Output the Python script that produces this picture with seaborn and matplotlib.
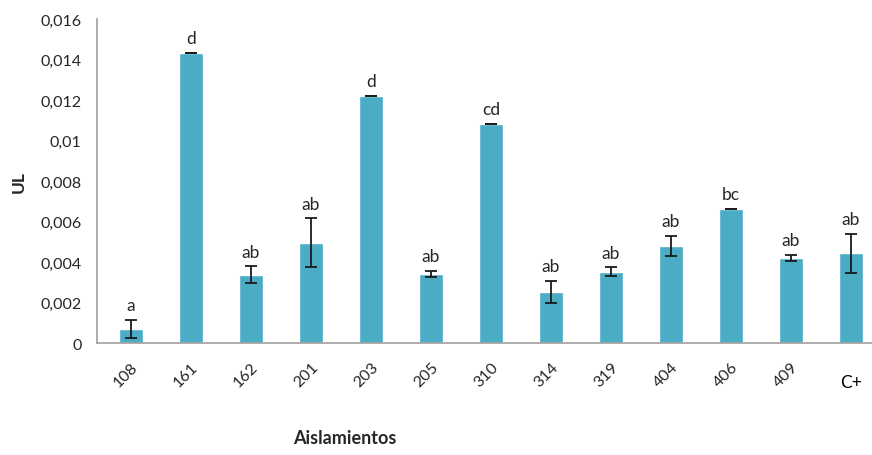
import numpy as np
import pandas as pd
import matplotlib
matplotlib.use("Agg")
import matplotlib.pyplot as plt
import seaborn as sns

# ================== DATA ==================
aislamientos = ["108", "161", "162", "201", "203", "205", "310",
                "314", "319", "404", "406", "409", "C+"]
ul_mean = [0.00069, 0.01432, 0.00336, 0.00494, 0.01220, 0.00341, 0.01081,
           0.00252, 0.00351, 0.00479, 0.00662, 0.00420, 0.00444]
ul_err = [0.00044, 0.00001, 0.00042, 0.00121, 0.00001, 0.00015, 0.00001,
          0.00054, 0.00022, 0.00050, 0.00001, 0.00015, 0.00096]
letras = ["a", "d", "ab", "ab", "d", "ab", "cd",
          "ab", "ab", "ab", "bc", "ab", "ab"]
y_ticks = [0, 0.002, 0.004, 0.006, 0.008, 0.01, 0.012, 0.014, 0.016]
y_tick_labels = ["0", "0,002", "0,004", "0,006", "0,008",
                 "0,01", "0,012", "0,014", "0,016"]

BAR_COLOR = "#4BACC6"
TEXT_COLOR = "#262626"

# ================== PLOT ==================
sns.set_style("white")
plt.rcParams['font.family'] = ['Lato', 'DejaVu Sans']

df = pd.DataFrame({"Aislamientos": aislamientos, "UL": ul_mean})

fig = plt.figure(figsize=(8.72, 4.56), dpi=100)
ax = fig.add_axes([0.111, 0.2456, 0.889, 0.7105])

sns.barplot(data=df, x="Aislamientos", y="UL", color=BAR_COLOR,
            saturation=1, width=0.4, errorbar=None, ax=ax)

x_pos = np.arange(len(aislamientos))
ax.errorbar(x_pos, ul_mean, yerr=ul_err, fmt="none", ecolor="#1a1a1a",
            elinewidth=1.3, capsize=4, capthick=1.3)

for x, m, e, lab in zip(x_pos, ul_mean, ul_err, letras):
    ax.annotate(lab, (x, m + e), xytext=(0, 5), textcoords="offset points",
                ha="center", va="bottom", fontsize=12.5, color=TEXT_COLOR)

ax.set_ylim(0, 0.016)
ax.set_xlim(-0.567, 12.35)
ax.set_yticks(y_ticks)
ax.set_yticklabels(y_tick_labels, fontsize=11.5, color=TEXT_COLOR)

ax.set_xticks(x_pos)
ax.set_xticklabels(aislamientos, fontsize=11.5, color=TEXT_COLOR)
for t in ax.get_xticklabels()[:-1]:
    t.set_rotation(45)
    t.set_ha("right")
    t.set_rotation_mode("anchor")
# C+ label sits flat and lower, like in the original figure
last = ax.get_xticklabels()[-1]
last.set_fontsize(12.5)
last.set_color("black")

ax.tick_params(axis="y", length=5, color="#a0a0a0", width=1, pad=6)
ax.tick_params(axis="x", length=0, pad=12)
ax.xaxis.get_major_ticks()[-1].set_pad(22)

for side in ["top", "right"]:
    ax.spines[side].set_visible(False)
for side in ["left", "bottom"]:
    ax.spines[side].set_color("#a0a0a0")
    ax.spines[side].set_linewidth(1.2)

ax.set_ylabel("UL", fontsize=12.5, fontweight="bold", color=TEXT_COLOR, labelpad=10)
ax.set_xlabel("Aislamientos", fontsize=13, fontweight="bold", color=TEXT_COLOR)
ax.xaxis.set_label_coords(0.32, -0.265)

fig.savefig("out.png", dpi=100)
